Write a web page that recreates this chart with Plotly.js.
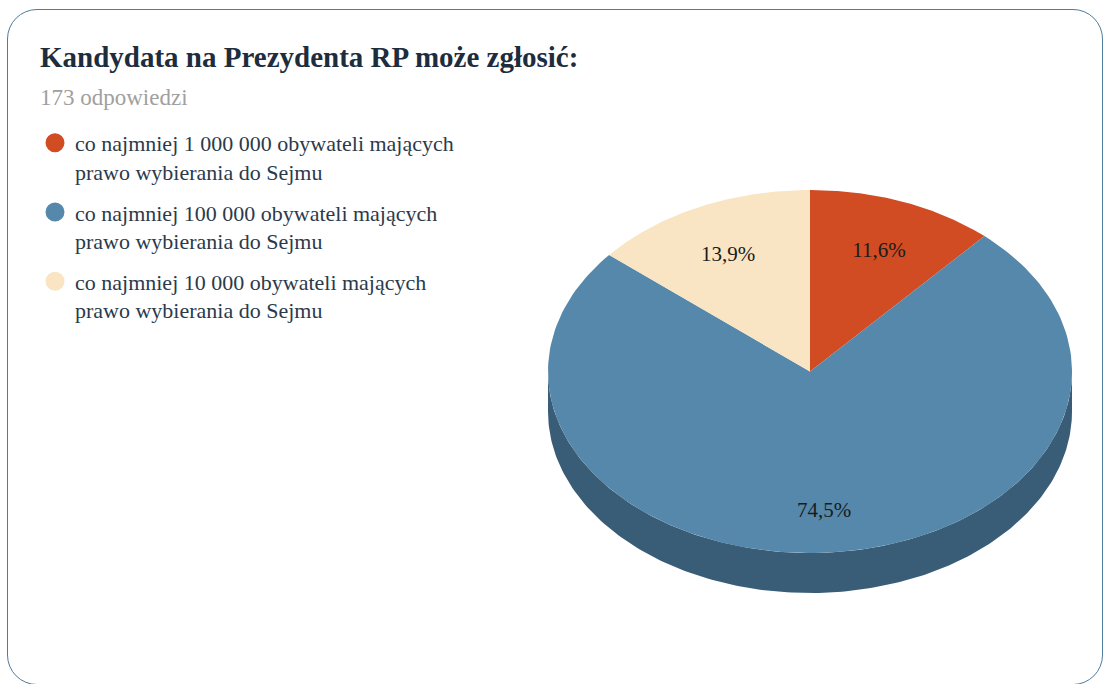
<!DOCTYPE html>
<html><head><meta charset="utf-8">
<script src="https://cdn.plot.ly/plotly-3.0.1.min.js"></script>
<style>
html,body{margin:0;padding:0;background:#fff;width:1104px;height:684px;overflow:hidden}
#card{position:absolute;left:7px;top:9px;width:1096px;height:676px;border:1.5px solid #4f7b9c;border-radius:30px;box-sizing:border-box;background:#fff}
#chart{position:absolute;left:0;top:0;width:1104px;height:684px}
</style></head><body>
<div id="card"></div><div id="chart"></div>
<script>
// ---- data ----
const chartTitle = 'Kandydata na Prezydenta RP może zgłosić:';
const responsesLabel = '173 odpowiedzi';
const categories = [
  'co najmniej 1 000 000 obywateli mających prawo wybierania do Sejmu',
  'co najmniej 100 000 obywateli mających prawo wybierania do Sejmu',
  'co najmniej 10 000 obywateli mających prawo wybierania do Sejmu'
];
const shares = [11.6, 74.5, 13.9];
const topColors = ['#d14b23', '#5588aa', '#f9e5c4'];
const sideColors = ['#8e3316', '#3a5d77', '#cdb893'];

// ---- geometry (styling) ----
const W = 1104, H = 684;
const DEPTH = 40 / 181.5;      // side height in y-units of the ellipse
const STEPS = 180;
const LABEL_R = 0.74;
const LABEL_DY = -6 / 181.5;   // small downward nudge of the percentage labels
const serif = 'Liberation Serif, Times New Roman, serif';

const total = shares.reduce((a, b) => a + b, 0);
const wrap = s => s.replace(' prawo', '<br>prawo');
const fmt = v => v.toFixed(1).replace('.', ',') + '%';

const sideTraces = [], topTraces = [], legendTraces = [];
const labelX = [], labelY = [], labelT = [];
let cum = 0;
shares.forEach((v, i) => {
  const t0 = cum / total * 2 * Math.PI;
  const t1 = (cum + v) / total * 2 * Math.PI;
  cum += v;
  // top face wedge
  const xs = [0], ys = [0];
  for (let k = 0; k <= STEPS; k++) {
    const t = t0 + (t1 - t0) * k / STEPS;
    xs.push(Math.sin(t)); ys.push(Math.cos(t));
  }
  xs.push(0); ys.push(0);
  topTraces.push({type: 'scatter', x: xs, y: ys, mode: 'lines', fill: 'toself',
    fillcolor: topColors[i], line: {width: 0, color: topColors[i]},
    hoverinfo: 'skip', showlegend: false});
  // visible side (front half)
  const a = Math.max(t0, Math.PI / 2), b = Math.min(t1, 3 * Math.PI / 2);
  if (b > a) {
    const sx = [], sy = [];
    for (let k = 0; k <= STEPS; k++) {
      const t = a + (b - a) * k / STEPS;
      sx.push(Math.sin(t)); sy.push(Math.cos(t));
    }
    for (let k = STEPS; k >= 0; k--) {
      const t = a + (b - a) * k / STEPS;
      sx.push(Math.sin(t)); sy.push(Math.cos(t) - DEPTH);
    }
    sideTraces.push({type: 'scatter', x: sx, y: sy, mode: 'lines', fill: 'toself',
      fillcolor: sideColors[i], line: {width: 0, color: sideColors[i]},
      hoverinfo: 'skip', showlegend: false});
  }
  const tm = (t0 + t1) / 2;
  labelX.push(LABEL_R * Math.sin(tm));
  labelY.push(LABEL_R * Math.cos(tm) + LABEL_DY);
  labelT.push(fmt(v));
  legendTraces.push({type: 'scatter', x: [null], y: [null], mode: 'markers',
    name: wrap(categories[i]), legendgroup: 'g' + i,
    marker: {size: 16, color: topColors[i], line: {width: 3, color: topColors[i]}},
    hoverinfo: 'skip'});
});

const labelTrace = {type: 'scatter', x: labelX, y: labelY, mode: 'text', text: labelT,
  textposition: 'middle center', textfont: {family: serif, size: 21, color: '#1b1b1b'},
  hoverinfo: 'skip', showlegend: false};

const data = [...sideTraces, ...topTraces, labelTrace, ...legendTraces];

const layout = {
  width: W, height: H,
  margin: {l: 0, r: 0, t: 0, b: 0},
  paper_bgcolor: 'rgba(0,0,0,0)', plot_bgcolor: 'rgba(0,0,0,0)',
  title: {text: '<b>' + chartTitle + '</b>', font: {family: serif, size: 29, color: '#1d2d3e'},
    x: 40 / W, xanchor: 'left', xref: 'paper', y: 1 - 57 / H, yref: 'container', yanchor: 'middle'},
  annotations: [{text: responsesLabel, xref: 'paper', yref: 'paper', x: 38 / W, y: 1 - 98 / H,
    xanchor: 'left', yanchor: 'middle', showarrow: false,
    font: {family: serif, size: 23, color: '#a0a0a0'}}],
  xaxis: {domain: [548 / W, 1072 / W], range: [-1, 1], visible: false, fixedrange: true},
  yaxis: {domain: [(H - 593) / H, (H - 190) / H], range: [-1 - DEPTH, 1], visible: false, fixedrange: true},
  showlegend: true,
  legend: {x: 35 / W, y: 1 - 122 / H, xanchor: 'left', yanchor: 'top', bgcolor: 'rgba(0,0,0,0)',
    font: {family: serif, size: 22, color: '#2b3a4b'}, traceorder: 'grouped', tracegroupgap: 9,
    valign: 'top', itemclick: false, itemdoubleclick: false},
  hovermode: false
};

Plotly.newPlot('chart', data, layout, {staticPlot: true, displayModeBar: false});
</script>
</body></html>
